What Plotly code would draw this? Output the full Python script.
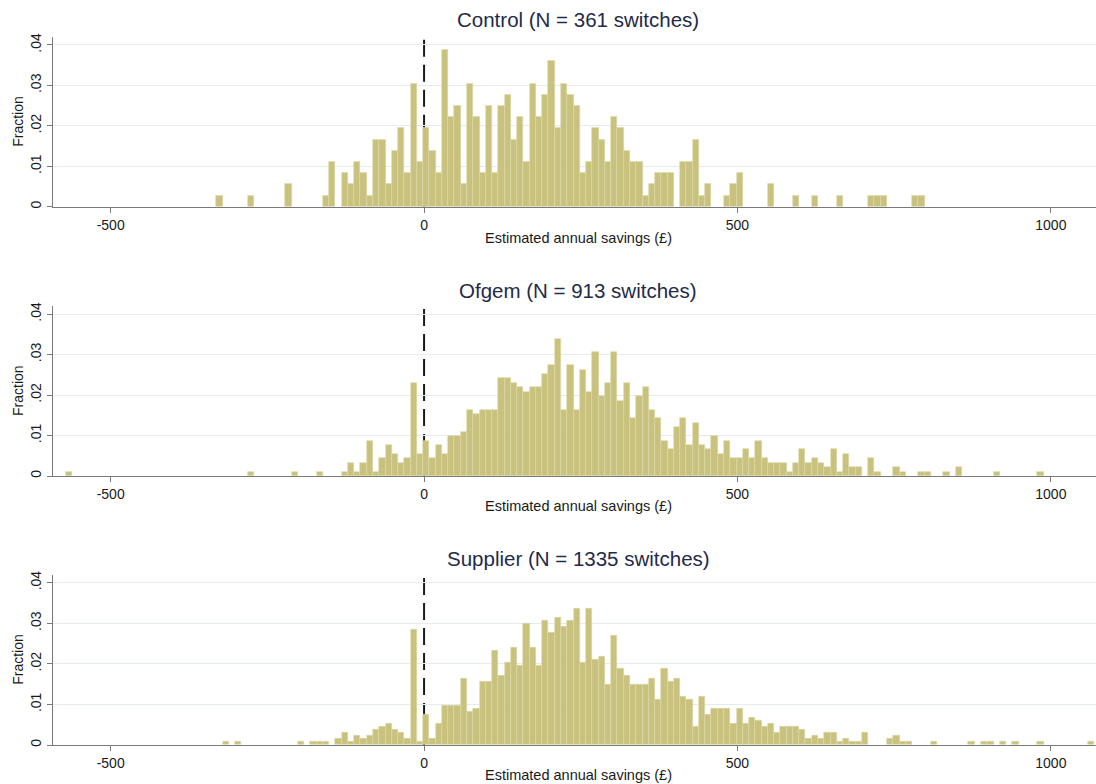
import plotly.graph_objects as go

# ---------------- data (bin start, count per 10-unit bin) ----------------
control_n = 361
control_bins = ([-330, -280, -220, -160, -150, -130, -120, -110, -100, -90, -80, -70,
                 -60, -50, -40, -30, -20, -10]
                + list(range(0, 360, 10))
                + [360, 370, 380, 390, 410, 420, 430, 440, 450, 480, 490, 500, 550,
                   590, 620, 660, 710, 720, 730, 780, 790])
control_counts = ([1, 1, 2, 1, 4, 3, 2, 4, 3, 1, 6, 6, 2, 5, 7, 3, 11, 4]
                  + [7, 5, 3, 14, 8, 9, 2, 11, 8, 3, 9, 3, 9, 10, 6, 8, 4, 11, 8, 10,
                     13, 7, 11, 10, 9, 3, 4, 7, 6, 4, 8, 7, 5, 4, 4, 1]
                  + [2, 3, 3, 3, 4, 4, 6, 1, 2, 1, 2, 3, 2, 1, 1, 1, 1, 1, 1, 1, 1])

ofgem_n = 913
ofgem_bins = ([-570, -280, -210, -170, -130, -120, -110, -100, -90, -80, -70, -60,
               -50, -40, -30, -20, -10]
              + list(range(0, 590, 10))
              + [590, 600, 610, 620, 630, 640, 650, 660, 670, 680, 690, 710, 720,
                 750, 760, 790, 800, 830, 850, 910, 980])
ofgem_counts = ([1, 1, 1, 1, 1, 3, 1, 3, 8, 1, 4, 7, 5, 3, 4, 21, 5]
                + [8, 4, 7, 5, 9, 9, 10, 15, 14, 15, 15, 15, 22, 22, 21, 20, 19, 20,
                   20, 23, 25, 31]
                + [15, 25, 15, 24, 19, 28, 18, 21, 28, 17, 21, 13, 18, 20, 15, 13, 8,
                   6, 11, 13, 7, 12, 7, 6, 9, 5, 8, 4, 4, 6, 4, 8, 4, 3, 3, 3, 1]
                + [3, 6, 3, 4, 3, 2, 6, 1, 5, 2, 2, 4, 1, 2, 1, 1, 1, 1, 2, 1, 1])

supplier_n = 1335
supplier_bins = ([-320, -300, -200, -180, -170, -160, -140, -130, -120, -110, -100,
                  -90, -80, -70, -60, -50, -40, -30, -20, -10]
                 + list(range(0, 710, 10))
                 + [740, 750, 760, 770, 810, 870, 890, 900, 920, 940, 980, 1060])
supplier_counts = ([1, 1, 1, 1, 1, 1, 2, 4, 1, 3, 2, 3, 5, 6, 7, 5, 4, 2, 38, 1]
                   + [10, 2, 7, 13, 13, 13, 22, 11, 12, 21, 21, 31, 23, 27, 32, 26, 40,
                      32, 26, 41, 37, 42, 39, 41, 45, 27, 45, 28, 29, 20, 36, 25, 23,
                      20, 20, 20, 22, 15]
                   + [25, 21, 22, 16, 15, 6, 16, 10, 12, 12, 12, 7, 12, 7, 9, 8, 6, 7,
                      4, 6, 6, 6, 5, 2, 3, 2, 4, 4, 1, 2, 1, 1, 4]
                   + [2, 3, 1, 1, 1, 1, 1, 1, 1, 1, 1, 1])

panel_titles = ["Control (N = 361 switches)", "Ofgem (N = 913 switches)",
                "Supplier (N = 1335 switches)"]
x_title = "Estimated annual savings (£)"
y_title = "Fraction"
x_ticks = [-500, 0, 500, 1000]
x_ticklabels = ["-500", "0", "500", "1000"]
y_ticks = [0, 0.01, 0.02, 0.03, 0.04]
y_ticklabels = ["0", ".01", ".02", ".03", ".04"]

# ---------------- styling / layout ----------------
W, H = 1096, 784
FONT = "Liberation Sans, Arial, sans-serif"
BAR = "#c9c27f"
EDGE = "#dcd7a6"
AXIS = "#7a7a7a"
GRID = "#e4ecf0"
TITLE_C = "#1f2b48"
Y_TOP = 0.042

# pixel geometry of each panel: (top_px, bottom_px, title_px, xtitle_px)
geom = [(36.9, 206.7, 20, 238), (306.0, 476.0, 290, 506), (574.6, 745.0, 558, 775)]
x_left, x_right = 53, 1096

panels = [(control_bins, control_counts, control_n),
          (ofgem_bins, ofgem_counts, ofgem_n),
          (supplier_bins, supplier_counts, supplier_n)]

fig = go.Figure()
layout = dict(width=W, height=H, margin=dict(l=0, r=0, t=0, b=0, autoexpand=False),
              plot_bgcolor="white", paper_bgcolor="white", bargap=0,
              showlegend=False, font=dict(family=FONT, color="#1a1a1a"))
annotations = []
shapes = []
for i, (bins, counts, n) in enumerate(panels):
    sfx = "" if i == 0 else str(i + 1)
    fig.add_trace(go.Bar(
        x=[b + 3.5 for b in bins], y=[c / n for c in counts], width=10,
        marker=dict(color=BAR, line=dict(color=EDGE, width=0.6)),
        xaxis="x" + sfx, yaxis="y" + sfx, hoverinfo="skip"))
    top, bot, tpx, xtpx = geom[i]
    layout["xaxis" + sfx] = dict(
        domain=[x_left / W, x_right / W], range=[-592, 1072], anchor="y" + sfx,
        tickvals=x_ticks, ticktext=x_ticklabels, ticks="outside", ticklen=5,
        tickcolor=AXIS, showline=True, linecolor=AXIS, linewidth=1.2,
        showgrid=False, zeroline=False,
        tickfont=dict(size=14, family=FONT, color="#1a1a1a"))
    layout["yaxis" + sfx] = dict(
        domain=[1 - bot / H, 1 - top / H], range=[0, Y_TOP], anchor="x" + sfx,
        tickvals=y_ticks, ticktext=y_ticklabels, tickangle=-90,
        ticks="outside", ticklen=5, tickcolor=AXIS,
        showline=True, linecolor=AXIS, linewidth=1.2,
        showgrid=True, gridcolor=GRID, gridwidth=1, zeroline=False,
        tickfont=dict(size=14, family=FONT, color="#1a1a1a"))
    shapes.append(dict(type="line", xref="x" + sfx, yref="y" + sfx,
                       x0=0, x1=0, y0=0, y1=Y_TOP, layer="below",
                       line=dict(color="#1a1a1a", width=2, dash="17px,8px")))
    annotations.append(dict(text=panel_titles[i], x=578 / W, y=1 - tpx / H,
                            xref="paper", yref="paper", showarrow=False,
                            xanchor="center", yanchor="middle",
                            font=dict(size=20.5, family=FONT, color=TITLE_C)))
    annotations.append(dict(text=x_title, x=578 / W, y=1 - xtpx / H,
                            xref="paper", yref="paper", showarrow=False,
                            xanchor="center", yanchor="middle",
                            font=dict(size=14.5, family=FONT, color="#1a1a1a")))
    annotations.append(dict(text=y_title, x=18 / W, y=1 - (top + bot) / 2 / H,
                            xref="paper", yref="paper", showarrow=False,
                            textangle=-90, xanchor="center", yanchor="middle",
                            font=dict(size=14, family=FONT, color="#1a1a1a")))

layout["annotations"] = annotations
layout["shapes"] = shapes
fig.update_layout(**layout)
fig.write_html("out.html", config={"displayModeBar": False},
               post_script="document.body.style.margin='0';"
                           "document.body.style.overflow='hidden';")
